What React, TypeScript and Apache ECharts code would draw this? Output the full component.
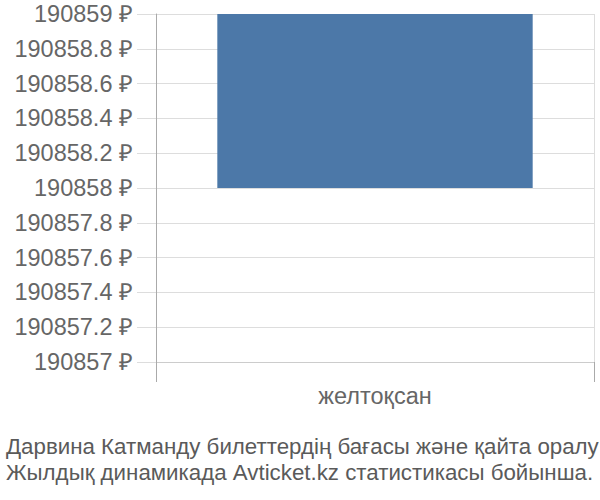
import React, { useEffect, useRef } from 'react';
import * as echarts from 'echarts';

const categories = ['желтоқсан'];
const lowValues = [190858];
const highValues = [190859];
const yMin = 190857;
const yMax = 190859;
const yStep = 0.2;
const titleLines = [
  'Дарвина Катманду билеттердің бағасы және қайта оралу',
  'Жылдық динамикада Avticket.kz статистикасы бойынша.',
];

const FONT = 'Liberation Sans, Arial, sans-serif';

const App: React.FC = () => {
  const chartRef = useRef<HTMLDivElement>(null);

  useEffect(() => {
    if (!chartRef.current) return;
    const chart = echarts.init(chartRef.current, undefined, { renderer: 'svg' });

    chart.setOption({
      animation: false,
      textStyle: { fontFamily: FONT },
      title: {
        text: titleLines.join('\n'),
        left: 1,
        top: 428,
        textStyle: {
          fontSize: 22.3,
          fontWeight: 'normal',
          color: '#5a5a5a',
          lineHeight: 26,
          fontFamily: FONT,
        },
      },
      grid: { left: 156, right: 6, top: 14, bottom: 138 },
      xAxis: {
        type: 'category',
        data: categories,
        axisLine: { show: true, lineStyle: { color: '#ccc' } },
        axisTick: { show: true, length: 20, lineStyle: { color: '#aaa' } },
        splitLine: { show: true, lineStyle: { color: '#ddd' } },
        axisLabel: { fontSize: 23.5, color: '#666', margin: 22, fontFamily: FONT },
      },
      yAxis: {
        type: 'value',
        min: yMin,
        max: yMax,
        interval: yStep,
        axisLine: { show: true, lineStyle: { color: '#aaa' } },
        axisTick: { show: true, length: 19, lineStyle: { color: '#ddd' } },
        splitLine: { show: true, lineStyle: { color: '#ddd' } },
        axisLabel: {
          fontSize: 23.5,
          color: '#666',
          margin: 23,
          fontFamily: FONT,
          formatter: (v: number) => `${Math.round(v * 10) / 10} ₽`,
        },
      },
      series: [
        {
          type: 'bar',
          stack: 'price',
          data: lowValues,
          itemStyle: { color: 'transparent' },
          barWidth: '72%',
          silent: true,
        },
        {
          type: 'bar',
          stack: 'price',
          data: highValues.map((h, i) => h - lowValues[i]),
          itemStyle: { color: '#4c78a8' },
          barWidth: '72%',
        },
      ],
    });

    return () => {
      chart.dispose();
    };
  }, []);

  return <div ref={chartRef} style={{ position: 'absolute', left: 0, top: 0, width: 600, height: 500 }} />;
};

export default App;
